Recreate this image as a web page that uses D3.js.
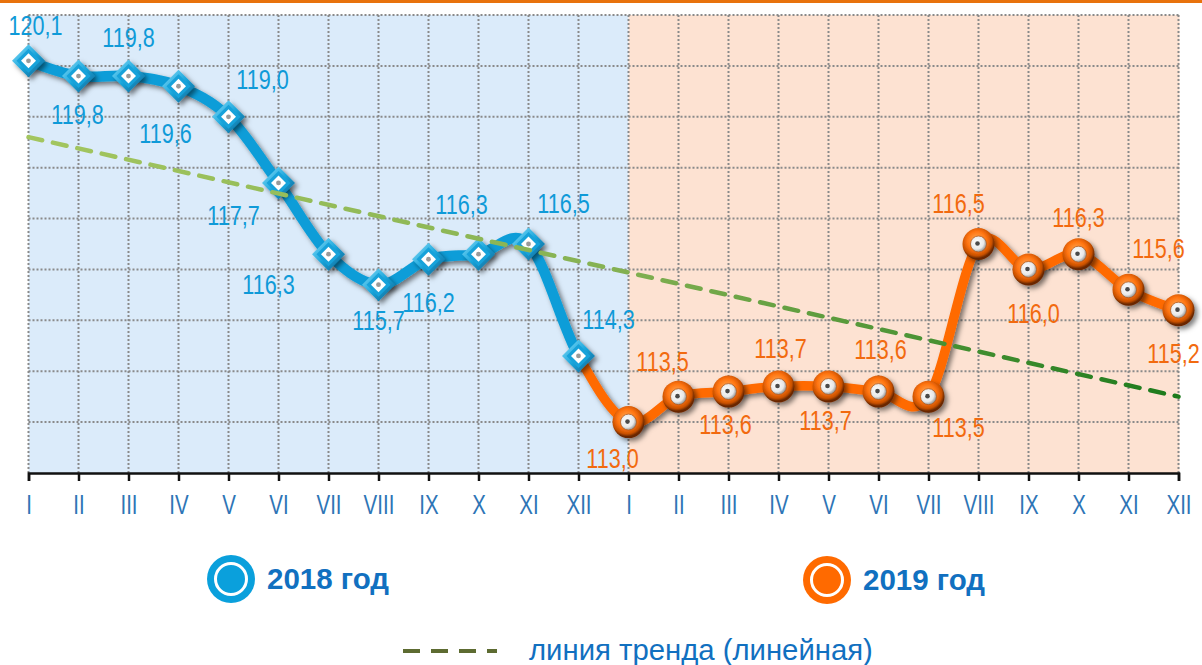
<!DOCTYPE html>
<html>
<head>
<meta charset="utf-8">
<script src="https://cdn.jsdelivr.net/npm/d3@7"></script>
<style>
  body { margin: 0; background: #fff; }
  svg { display: block; }
  .num { font-family: "Liberation Sans", Arial, sans-serif; font-size: 27px; }
  .axis text { font-family: "Liberation Sans", Arial, sans-serif; font-size: 27px; fill: #2e75b6; }
  .legend { font-family: "Liberation Sans", Arial, sans-serif; fill: #1170c0; }
</style>
</head>
<body>
<svg width="1202" height="665"></svg>
<script>
// data
var months = ["I", "II", "III", "IV", "V", "VI", "VII", "VIII", "IX", "X", "XI", "XII"];
var values2018 = [120.1, 119.8, 119.8, 119.6, 119.0, 117.7, 116.3, 115.7, 116.2, 116.3, 116.5, 114.3];
var values2019 = [113.0, 113.5, 113.6, 113.7, 113.7, 113.6, 113.5, 116.5, 116.0, 116.3, 115.6, 115.2];
var trendEnds = [118.6, 113.5];
var yTicks = [113, 114, 115, 116, 117, 118, 119, 120, 121];
var seriesNames = ["2018 год", "2019 год"];
var trendName = "линия тренда (линейная)";

// label offsets from their point (layout only)
var offsets2018 = [[7, -26], [-1, 48], [0, -29], [-13, 57], [34, -28], [-45, 42], [-60, 40], [0, 45], [0, 53], [-17, -40], [35, -31], [30, -27]];
var offsets2019 = [[-16, 46], [-16, -26], [-3, 42], [2, -28], [-3, 44], [2, -33], [30, 40], [-20, -31], [5, 54], [0, -27], [30, -32], [-5, 53]];

var all = values2018.concat(values2019);
var svg = d3.select("svg");
var plotLeft = 28.5, plotRight = 1178.5, plotTop = 15, plotBottom = 473;

var x = d3.scaleLinear().domain([0, all.length - 1]).range([plotLeft, plotRight]);
var y = d3.scaleLinear().domain([112, 121]).range([plotBottom, plotTop]);

var fmt = function (v) { return d3.format(".1f")(v).replace(".", ","); };

var defs = svg.append("defs");

var sh = defs.append("filter").attr("id", "shadow")
    .attr("x", "-50%").attr("y", "-50%").attr("width", "200%").attr("height", "200%");
sh.append("feDropShadow").attr("dx", 3).attr("dy", 3).attr("stdDeviation", 2.5)
    .attr("flood-color", "#000").attr("flood-opacity", 0.5);

var tg = defs.append("linearGradient").attr("id", "trendGrad")
    .attr("gradientUnits", "userSpaceOnUse")
    .attr("x1", plotLeft).attr("x2", plotRight).attr("y1", 0).attr("y2", 0);
tg.append("stop").attr("offset", "0%").attr("stop-color", "#a3c65f");
tg.append("stop").attr("offset", "50%").attr("stop-color", "#86b253");
tg.append("stop").attr("offset", "100%").attr("stop-color", "#1c7a1c");

var dg = defs.append("linearGradient").attr("id", "diaGrad")
    .attr("x1", "0%").attr("y1", "0%").attr("x2", "100%").attr("y2", "100%");
dg.append("stop").attr("offset", "0%").attr("stop-color", "#8fe0fa");
dg.append("stop").attr("offset", "50%").attr("stop-color", "#1aa6dc");
dg.append("stop").attr("offset", "100%").attr("stop-color", "#0a5f8c");

var bg = defs.append("radialGradient").attr("id", "ballGrad")
    .attr("cx", "45%").attr("cy", "40%").attr("r", "55%");
bg.append("stop").attr("offset", "0%").attr("stop-color", "#ffb060");
bg.append("stop").attr("offset", "55%").attr("stop-color", "#ff7410");
bg.append("stop").attr("offset", "85%").attr("stop-color", "#c85000");
bg.append("stop").attr("offset", "100%").attr("stop-color", "#6a2800");

var cg = defs.append("radialGradient").attr("id", "coreGrad")
    .attr("cx", "40%").attr("cy", "40%").attr("r", "60%");
cg.append("stop").attr("offset", "0%").attr("stop-color", "#ffffff");
cg.append("stop").attr("offset", "70%").attr("stop-color", "#e8e8e8");
cg.append("stop").attr("offset", "100%").attr("stop-color", "#9a9a9a");

defs.append("clipPath").attr("id", "clipBlue").append("rect")
    .attr("x", 0).attr("y", 0).attr("width", x(11)).attr("height", 665);
defs.append("clipPath").attr("id", "clipOrange").append("rect")
    .attr("x", x(11)).attr("y", 0).attr("width", 1202 - x(11)).attr("height", 665);

// top bar
svg.append("rect").attr("x", 0).attr("y", 0).attr("width", 1202).attr("height", 3).attr("fill", "#e8720c");

// backgrounds
svg.append("rect").attr("x", plotLeft).attr("y", plotTop).attr("width", x(12) - plotLeft).attr("height", plotBottom - plotTop).attr("fill", "#dbebfa");
svg.append("rect").attr("x", x(12)).attr("y", plotTop).attr("width", plotRight - x(12) + 1).attr("height", plotBottom - plotTop).attr("fill", "#fde2d2");

// grid
var grid = svg.append("g").attr("stroke", "#8a8a8a").attr("stroke-width", 2).attr("stroke-dasharray", "2,2");
grid.selectAll(".gx").data(d3.range(all.length)).enter().append("line")
    .attr("x1", function (d) { return x(d); }).attr("x2", function (d) { return x(d); })
    .attr("y1", plotTop).attr("y2", plotBottom);
grid.selectAll(".gy").data(yTicks).enter().append("line")
    .attr("x1", plotLeft).attr("x2", plotRight)
    .attr("y1", function (d) { return y(d); }).attr("y2", function (d) { return y(d); });

// axis
var axis = svg.append("g").attr("class", "axis").attr("transform", "translate(0," + plotBottom + ")")
    .call(d3.axisBottom(x).tickValues(d3.range(all.length)).tickSize(8).tickPadding(14)
        .tickFormat(function (d) { return months[d % 12]; }));
axis.select(".domain").attr("stroke", "#111").attr("stroke-width", 2.5);
axis.selectAll(".tick line").attr("stroke", "#111").attr("stroke-width", 2.5);
axis.selectAll(".tick text").attr("transform", "scale(0.76,1)");

// line
var line = d3.line()
    .x(function (d, i) { return x(i); })
    .y(function (d) { return y(d); })
    .curve(d3.curveCardinal.tension(0));

var lines = svg.append("g").attr("filter", "url(#shadow)");
lines.append("path").attr("d", line(all)).attr("fill", "none")
    .attr("stroke", "#0b9dd8").attr("stroke-width", 10.5).attr("clip-path", "url(#clipBlue)");
lines.append("path").attr("d", line(all)).attr("fill", "none")
    .attr("stroke", "#ff6a00").attr("stroke-width", 9.5).attr("clip-path", "url(#clipOrange)");

// markers 2018
var dia = svg.append("g").selectAll("g").data(values2018).enter().append("g")
    .attr("transform", function (d, i) { return "translate(" + x(i) + "," + y(d) + ")"; });
dia.append("path").attr("d", "M0,-16.5L16.5,0L0,16.5L-16.5,0Z").attr("fill", "url(#diaGrad)").attr("filter", "url(#shadow)");
dia.append("path").attr("d", "M0,-12L12,0L0,12L-12,0Z").attr("fill", "#17a2da");
dia.append("path").attr("d", "M0,-7.5L7.5,0L0,7.5L-7.5,0Z").attr("fill", "#fff");
dia.append("circle").attr("r", 2.4).attr("fill", "#9a9a9a");

// markers 2019
var ball = svg.append("g").selectAll("g").data(values2019).enter().append("g")
    .attr("transform", function (d, i) { return "translate(" + x(i + 12) + "," + y(d) + ")"; });
ball.append("circle").attr("r", 16).attr("fill", "url(#ballGrad)").attr("filter", "url(#shadow)");
ball.append("circle").attr("r", 8).attr("fill", "url(#coreGrad)").attr("stroke", "#b05a20").attr("stroke-width", 0.8);
ball.append("circle").attr("r", 2.3).attr("cx", -1).attr("cy", -0.5).attr("fill", "#4a4a4a");

// trend
svg.append("line")
    .attr("x1", x(0)).attr("y1", y(trendEnds[0]))
    .attr("x2", x(all.length - 1)).attr("y2", y(trendEnds[1]))
    .attr("stroke", "url(#trendGrad)").attr("stroke-width", 4.5)
    .attr("stroke-dasharray", "14,11").attr("stroke-linecap", "round");

// labels
function addLabels(values, start, offsets, color) {
    svg.append("g").selectAll("g").data(values).enter().append("g")
        .attr("transform", function (d, i) {
            return "translate(" + (x(i + start) + offsets[i][0]) + "," + (y(d) + offsets[i][1]) + ")";
        })
        .append("text")
        .attr("class", "num").attr("fill", color).attr("text-anchor", "middle")
        .attr("transform", "scale(0.8,1)")
        .text(fmt);
}
addLabels(values2018, 0, offsets2018, "#0f9ad8");
addLabels(values2019, 12, offsets2019, "#f26a0f");

// legend
var legendColors = ["#0aa0dc", "#ff6a00"];
var legendPos = [[231, 579], [827, 580]];
var lg = svg.append("g").selectAll("g").data(seriesNames).enter().append("g")
    .attr("transform", function (d, i) { return "translate(" + legendPos[i][0] + "," + legendPos[i][1] + ")"; });
lg.append("circle").attr("r", 24).attr("fill", function (d, i) { return legendColors[i]; });
lg.append("circle").attr("r", 15.5).attr("fill", "none").attr("stroke", "#fff").attr("stroke-width", 3);
lg.append("text").attr("class", "legend").attr("x", 36).attr("y", 10)
    .attr("font-size", 29.5).attr("font-weight", "bold").text(function (d) { return d; });

svg.append("line").attr("x1", 403).attr("x2", 497).attr("y1", 651).attr("y2", 651)
    .attr("stroke", "#5d6b31").attr("stroke-width", 4).attr("stroke-dasharray", "17,11");
svg.append("text").attr("class", "legend").attr("x", 529).attr("y", 660)
    .attr("font-size", 29.3).text(trendName);
</script>
</body>
</html>
